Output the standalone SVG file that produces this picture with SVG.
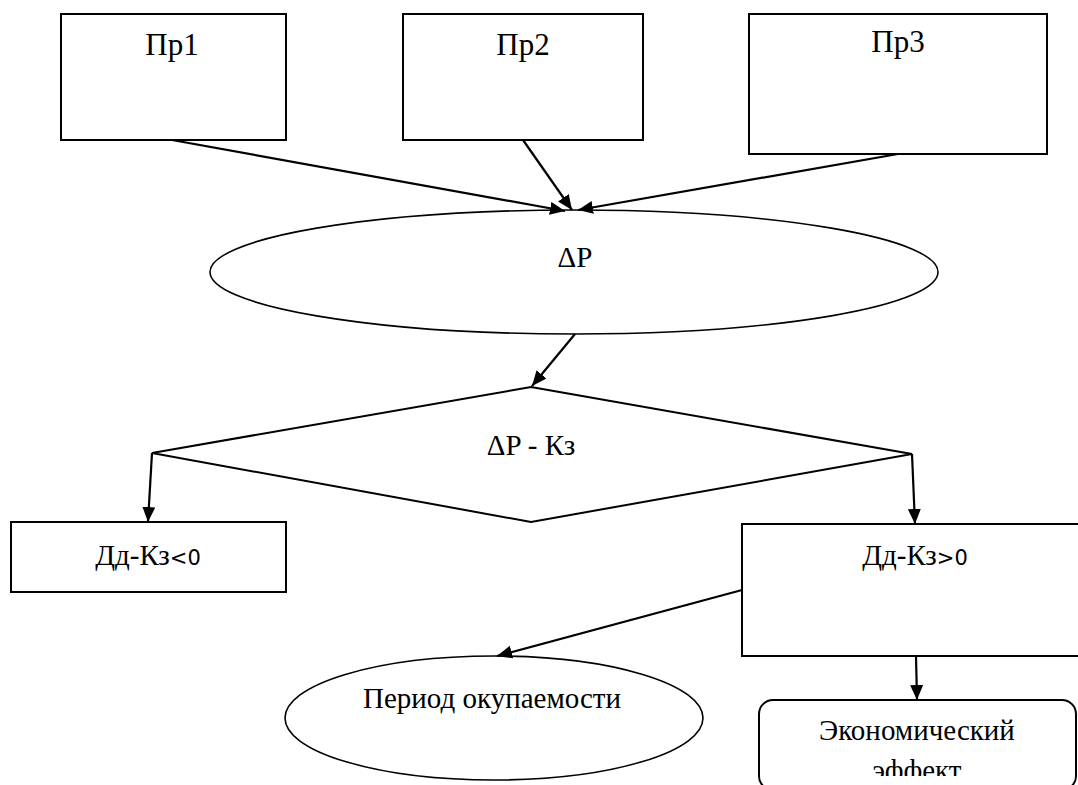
<svg xmlns="http://www.w3.org/2000/svg" width="1078" height="785" viewBox="0 0 1078 785">
<style>
.box{fill:#fff;stroke:#000;stroke-width:2}
.ell{fill:#fff;stroke:#000;stroke-width:1.6}
.t{font-family:"Liberation Serif","Times New Roman",serif;font-size:29px;fill:#000;text-anchor:middle}
.big{font-size:31px}
.s{font-family:"DejaVu Sans",sans-serif;font-size:21px}
.c{fill:none;stroke:#000;stroke-width:2.2}
</style>
<defs>
<marker id="ah" markerUnits="userSpaceOnUse" markerWidth="16" markerHeight="14" refX="15" refY="6.5" orient="auto">
<path d="M0,0 L15,6.5 L0,13 z" fill="#000"/>
</marker>
<clipPath id="clipEco"><rect x="759" y="700" width="319" height="76"/></clipPath>
</defs>
<rect width="1078" height="785" fill="#fff"/>
<g id="n-pr1"><rect class="box" x="61" y="14" width="225" height="126"/><text class="t big" x="172" y="55">Пр1</text></g>
<g id="n-pr2"><rect class="box" x="403" y="14" width="240" height="126"/><text class="t big" x="523" y="55">Пр2</text></g>
<g id="n-pr3"><rect class="box" x="749" y="14" width="298" height="140"/><text class="t big" x="898" y="52">Пр3</text></g>
<g id="n-dp"><ellipse class="ell" cx="574" cy="272" rx="364" ry="62"/><text class="t" x="575" y="267">ΔP</text></g>
<g id="n-diamond"><polygon class="box" points="531,387 912,454 531,522 152,453"/><text class="t" x="531" y="455">ΔP - Кз</text></g>
<g id="n-neg"><rect class="box" x="11" y="522" width="275" height="70"/><text class="t" x="148" y="565">Дд-Кз<tspan class="s">&lt;0</tspan></text></g>
<g id="n-pos"><rect class="box" x="742" y="524" width="340" height="132"/><text class="t" x="915" y="565">Дд-Кз<tspan class="s">&gt;0</tspan></text></g>
<g id="n-period"><ellipse class="ell" cx="494" cy="718" rx="209" ry="62"/><text class="t" x="492" y="708">Период окупаемости</text></g>
<g id="n-eco"><rect class="box" x="759" y="700" width="317" height="90" rx="14" ry="14"/>
<g clip-path="url(#clipEco)"><text class="t" x="917" y="740">Экономический</text><text class="t" x="917" y="780">эффект</text></g></g>
<g id="connectors">
<line class="c" x1="172" y1="140" x2="565" y2="211" marker-end="url(#ah)"/>
<line class="c" x1="523" y1="140" x2="572" y2="210" marker-end="url(#ah)"/>
<line class="c" x1="898" y1="154" x2="578" y2="210" marker-end="url(#ah)"/>
<line class="c" x1="575" y1="334" x2="532" y2="386" marker-end="url(#ah)"/>
<line class="c" x1="152" y1="453" x2="148" y2="522" marker-end="url(#ah)"/>
<line class="c" x1="912" y1="454" x2="915" y2="524" marker-end="url(#ah)"/>
<line class="c" x1="742" y1="590" x2="497" y2="656" marker-end="url(#ah)"/>
<line class="c" x1="916" y1="656" x2="917" y2="700" marker-end="url(#ah)"/>
</g>
</svg>
